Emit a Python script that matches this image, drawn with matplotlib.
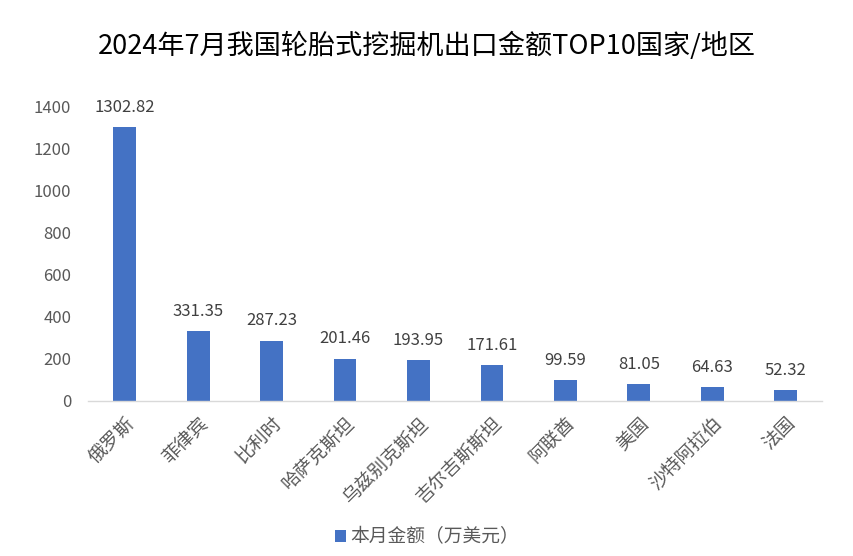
import matplotlib
matplotlib.use("Agg")
import matplotlib.pyplot as plt

plt.rcParams['font.family'] = ['Noto Sans CJK SC', 'DejaVu Sans']

categories = ["俄罗斯", "菲律宾", "比利时", "哈萨克斯坦", "乌兹别克斯坦", "吉尔吉斯斯坦", "阿联酋", "美国", "沙特阿拉伯", "法国"]
values = [1302.82, 331.35, 287.23, 201.46, 193.95, 171.61, 99.59, 81.05, 64.63, 52.32]
yticks = [0, 200, 400, 600, 800, 1000, 1200, 1400]
title = "2024年7月我国轮胎式挖掘机出口金额TOP10国家/地区"
series_name = "本月金额（万美元）"

fig = plt.figure(figsize=(8.54, 5.56), dpi=100)
ax = fig.add_axes([0.103, 0.279, 0.86, 0.529])
x = range(len(categories))
bars = ax.bar(x, values, width=0.31, color="#4472C4", label=series_name, zorder=2)
for xi, v in zip(x, values):
    ax.annotate(f"{v:.2f}", (xi, v), xytext=(0, 8), textcoords="offset points",
                ha="center", va="bottom", fontsize=12, color="#404040")

ax.set_xlim(-0.5, len(categories) - 0.5)
ax.set_ylim(0, 1400)
ax.set_yticks(yticks)
ax.set_yticklabels([str(t) for t in yticks], fontsize=12, color="#595959")
ax.set_xticks(list(x))
ax.set_xticklabels(categories, rotation=45, ha="right", rotation_mode="anchor", fontsize=13.5, color="#595959")
ax.tick_params(axis="both", length=0)
ax.tick_params(axis="y", pad=12)
ax.tick_params(axis="x", pad=9)
for s in ["left", "right", "top"]:
    ax.spines[s].set_visible(False)
ax.spines["bottom"].set_color("#D9D9D9")
ax.spines["bottom"].set_linewidth(1)

fig.text(0.5, 0.918, title, ha="center", va="center", fontsize=19.5, color="#000000")
fig.legend(handles=[bars], labels=[series_name], loc="center", bbox_to_anchor=(0.5, 0.034),
           frameon=False, fontsize=13.5, handlelength=0.6, handleheight=0.6, handletextpad=0.2,
           labelcolor="#595959")
fig.savefig("out.png", dpi=100)
